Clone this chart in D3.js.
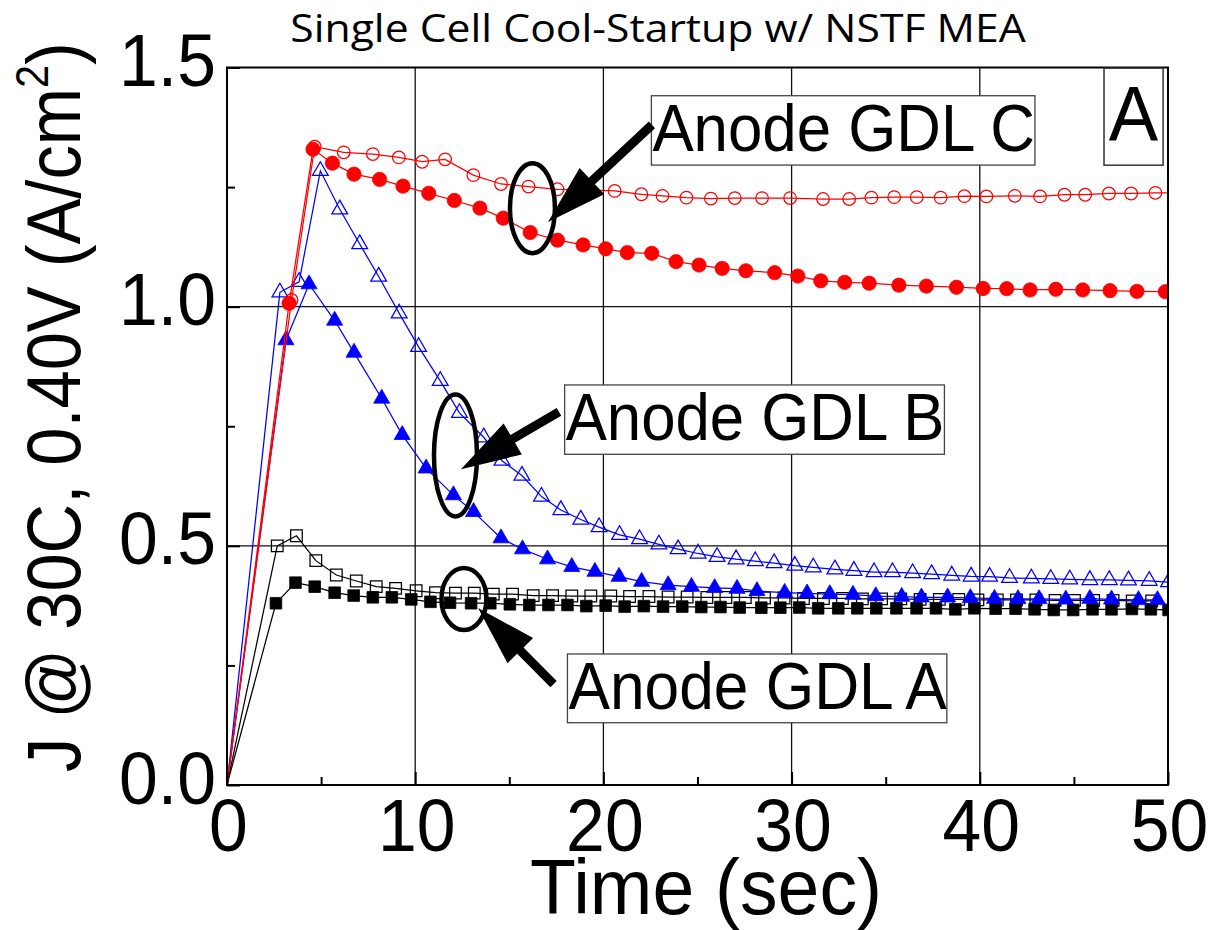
<!DOCTYPE html>
<html>
<head>
<meta charset="utf-8">
<script src="https://cdn.jsdelivr.net/npm/d3@7"></script>
<style>
  html, body { margin: 0; padding: 0; background: #fff; }
  svg { display: block; }
</style>
</head>
<body>
<svg id="chart" width="1210" height="930"></svg>
<script>
// ---- Current density J (A/cm^2) at 30C, 0.40V vs. time (sec) ----

// Anode GDL A, open squares
const gdlAOpenTime = [0, 2.67, 3.69, 4.72, 5.81, 6.87, 7.93, 8.96, 10.05, 11.08, 12.14, 13.14, 14.15, 15.17, 16.27, 17.3, 18.32, 19.33, 20.39, 21.39, 22.42, 23.44, 24.45, 25.5, 26.51, 27.54, 28.56, 29.6, 30.63, 31.69, 32.7, 33.76, 34.78, 35.8, 36.83, 37.85, 38.88, 39.9, 40.93, 41.95, 42.98, 44.0, 45.03, 46.05, 47.08, 48.1, 49.13];
const gdlAOpenJ    = [0, 0.500, 0.521, 0.469, 0.439, 0.4265, 0.4146, 0.411, 0.406, 0.402, 0.401, 0.401, 0.399, 0.399, 0.396, 0.396, 0.395, 0.395, 0.395, 0.394, 0.394, 0.393, 0.393, 0.392, 0.392, 0.392, 0.391, 0.391, 0.390, 0.390, 0.390, 0.389, 0.389, 0.389, 0.388, 0.388, 0.388, 0.387, 0.387, 0.387, 0.387, 0.386, 0.386, 0.386, 0.386, 0.385, 0.385];

// Anode GDL A, filled squares
const gdlAFilledTime = [0, 2.6, 3.64, 4.66, 5.72, 6.73, 7.75, 8.76, 9.79, 10.81, 11.85, 12.97, 13.99, 15.03, 16.06, 17.08, 18.09, 19.09, 20.12, 21.13, 22.15, 23.17, 24.19, 25.2, 26.22, 27.24, 28.39, 29.4, 30.41, 31.41, 32.48, 33.49, 34.5, 35.57, 36.64, 37.67, 38.7, 39.71, 40.84, 41.9, 42.91, 43.93, 44.96, 45.99, 47.0, 48.08, 49.09, 50.03];
const gdlAFilledJ    = [0, 0.380, 0.423, 0.4146, 0.402, 0.396, 0.3924, 0.3924, 0.388, 0.383, 0.381, 0.380, 0.380, 0.3778, 0.3763, 0.3763, 0.3763, 0.374, 0.375, 0.373, 0.374, 0.373, 0.373, 0.372, 0.372, 0.371, 0.3707, 0.3707, 0.371, 0.3694, 0.3694, 0.3694, 0.3694, 0.3694, 0.3694, 0.3694, 0.3673, 0.3694, 0.3686, 0.3686, 0.3673, 0.3659, 0.3659, 0.3673, 0.3673, 0.368, 0.3673, 0.3659];

// Anode GDL B, open triangles
const gdlBOpenTime = [0, 2.81, 3.83, 4.96, 5.99, 7.05, 8.06, 9.15, 10.18, 11.33, 12.35, 13.64, 14.61, 15.67, 16.71, 17.74, 18.80, 19.77, 20.86, 21.92, 22.95, 23.97, 25.03, 26.04, 27.05, 28.07, 29.07, 30.17, 31.15, 32.30, 33.31, 34.38, 35.36, 36.43, 37.44, 38.51, 39.54, 40.52, 41.58, 42.74, 43.77, 44.78, 45.85, 46.88, 47.90, 49.0, 50.03];
const gdlBOpenJ    = [0, 1.030, 1.052, 1.284, 1.2036, 1.131, 1.063, 0.986, 0.916, 0.845, 0.778, 0.727, 0.678, 0.647, 0.603, 0.575, 0.555, 0.539, 0.523, 0.514, 0.503, 0.493, 0.484, 0.477, 0.472, 0.468, 0.464, 0.4585, 0.455, 0.451, 0.448, 0.445, 0.445, 0.443, 0.441, 0.438, 0.436, 0.4355, 0.433, 0.432, 0.431, 0.430, 0.4286, 0.4286, 0.428, 0.427, 0.424];

// Anode GDL B, filled triangles
const gdlBFilledTime = [0, 3.13, 4.36, 5.72, 6.75, 8.22, 9.31, 10.58, 12.03, 13.1, 14.56, 15.70, 17.03, 18.32, 19.55, 20.83, 22.03, 23.44, 24.68, 25.91, 27.1, 28.16, 29.63, 30.82, 32.03, 33.26, 34.47, 35.85, 36.9, 38.29, 39.5, 40.78, 42.03, 43.15, 44.57, 45.85, 47.0, 48.43, 49.44];
const gdlBFilledJ    = [0, 0.930, 1.047, 0.971, 0.904, 0.808, 0.732, 0.662, 0.606, 0.571, 0.516, 0.493, 0.472, 0.456, 0.446, 0.4355, 0.425, 0.418, 0.4146, 0.412, 0.4104, 0.4056, 0.402, 0.4008, 0.3993, 0.398, 0.395, 0.3937, 0.3924, 0.3924, 0.391, 0.3895, 0.3889, 0.3889, 0.388, 0.3895, 0.388, 0.3868, 0.3868];

// Anode GDL C, open circles
const gdlCOpenTime = [0, 3.43, 4.66, 6.2, 7.75, 9.13, 10.37, 11.59, 13.09, 14.56, 16.02, 17.56, 19.06, 20.6, 22.02, 23.14, 24.41, 25.71, 26.98, 28.43, 29.92, 31.67, 33.06, 34.24, 35.45, 36.65, 37.92, 39.18, 40.35, 41.86, 43.2, 44.5, 45.6, 46.86, 48.04, 49.33, 50.6];
const gdlCOpenJ    = [0, 1.014, 1.3345, 1.3227, 1.319, 1.312, 1.303, 1.308, 1.275, 1.2565, 1.251, 1.2454, 1.244, 1.242, 1.235, 1.2317, 1.228, 1.226, 1.227, 1.227, 1.227, 1.225, 1.225, 1.228, 1.229, 1.229, 1.228, 1.231, 1.2305, 1.2317, 1.2305, 1.234, 1.234, 1.2366, 1.2366, 1.238, 1.238];

// Anode GDL C, filled circles
const gdlCFilledTime = [0, 3.3, 4.57, 5.6, 6.75, 8.11, 9.35, 10.72, 12.08, 13.44, 14.68, 16.11, 17.56, 18.92, 20.12, 21.27, 22.57, 23.86, 25.08, 26.31, 27.57, 29.1, 30.33, 31.55, 32.82, 34.12, 35.7, 37.16, 38.76, 40.18, 41.43, 42.67, 44.04, 45.47, 46.92, 48.35, 49.86];
const gdlCFilledJ    = [0, 1.007, 1.329, 1.300, 1.277, 1.266, 1.252, 1.237, 1.222, 1.206, 1.185, 1.155, 1.139, 1.129, 1.121, 1.113, 1.1116, 1.094, 1.087, 1.080, 1.075, 1.071, 1.064, 1.054, 1.051, 1.049, 1.045, 1.043, 1.0406, 1.038, 1.0376, 1.035, 1.0364, 1.035, 1.0335, 1.032, 1.0313];

// Axis ticks and labels
const xTicks = [0, 10, 20, 30, 40, 50];
const xTickLabels = ["0", "10", "20", "30", "40", "50"];
const xMinorTicks = [5, 15, 25, 35, 45];
const yTicks = [0, 0.5, 1.0, 1.5];
const yTickLabels = ["0.0", "0.5", "1.0", "1.5"];
const yMinorTicks = [0.25, 0.75, 1.25];
const xGrid = [10, 20, 30, 40];
const yGrid = [0.5, 1.0];

const titleText = "Single Cell Cool-Startup w/ NSTF MEA";
const xLabelText = "Time (sec)";
const panelText = "A";

// Callout annotations (box corners, ellipse centres, arrow ends in data units)
const calloutNames = ["Anode GDL C", "Anode GDL B", "Anode GDL A"];
const calloutBoxT = [[22.55, 42.93], [17.94, 38.12], [18.09, 38.25]];
const calloutBoxJ = [[1.441, 1.296], [0.8363, 0.6914], [0.2739, 0.1302]];
const ellipseCentre = [[16.23, 1.206], [12.14, 0.689], [12.59, 0.389]];
const ellipseRadii = [[22.5, 45], [21.5, 61], [22.5, 31]];
const arrowTail = [[22.58, 1.380], [17.64, 0.780], [17.35, 0.211]];
const arrowTip  = [[17.06, 1.177], [12.43, 0.660], [13.34, 0.370]];

// ---------------------------------------------------------------
const svg = d3.select("#chart");
const plot = { left: 227, right: 1168, top: 67.5, bottom: 785 };
const x = d3.scaleLinear().domain([0, 50]).range([plot.left, plot.right]);
const y = d3.scaleLinear().domain([0, 1.5]).range([plot.bottom, plot.top]);
const sansArial = "'Liberation Sans', Arial, Helvetica, sans-serif";

svg.append("rect").attr("width", 1210).attr("height", 930).attr("fill", "#fff");

svg.append("defs").append("clipPath").attr("id", "plotClip")
  .append("rect")
  .attr("x", plot.left).attr("y", plot.top)
  .attr("width", plot.right - plot.left).attr("height", plot.bottom - plot.top);

// grid
const grid = svg.append("g").attr("stroke", "#111").attr("stroke-width", 1.3);
grid.selectAll("line.gx").data(xGrid).join("line")
  .attr("x1", d => x(d)).attr("x2", d => x(d))
  .attr("y1", plot.top).attr("y2", plot.bottom);
grid.selectAll("line.gy").data(yGrid).join("line")
  .attr("x1", plot.left).attr("x2", plot.right)
  .attr("y1", d => y(d)).attr("y2", d => y(d));

// series
const series = [
  { t: gdlAOpenTime,   j: gdlAOpenJ,   color: "#000000", symbol: d3.symbolSquare,   size: 135, filled: false },
  { t: gdlAFilledTime, j: gdlAFilledJ, color: "#000000", symbol: d3.symbolSquare,   size: 135, filled: true },
  { t: gdlBOpenTime,   j: gdlBOpenJ,   color: "#0000ff", symbol: d3.symbolTriangle, size: 108, filled: false },
  { t: gdlBFilledTime, j: gdlBFilledJ, color: "#0000ff", symbol: d3.symbolTriangle, size: 112, filled: true },
  { t: gdlCOpenTime,   j: gdlCOpenJ,   color: "#ff0000", symbol: d3.symbolCircle,   size: 125, filled: false },
  { t: gdlCFilledTime, j: gdlCFilledJ, color: "#ff0000", symbol: d3.symbolCircle,   size: 160, filled: true }
];

const line = d3.line().x(d => x(d[0])).y(d => y(d[1]));
const dataLayer = svg.append("g").attr("clip-path", "url(#plotClip)");
series.forEach(s => {
  const pts = d3.zip(s.t, s.j);
  const g = dataLayer.append("g");
  g.append("path").datum(pts)
    .attr("d", line).attr("fill", "none")
    .attr("stroke", s.color).attr("stroke-width", 1.25);
  g.selectAll("path.marker").data(pts.filter(d => d[0] > 0)).join("path")
    .attr("class", "marker")
    .attr("transform", d => `translate(${x(d[0])},${y(d[1])})`)
    .attr("d", d3.symbol().type(s.symbol).size(s.size))
    .attr("fill", s.filled ? s.color : "none")
    .attr("stroke", s.color)
    .attr("stroke-width", s.filled ? 0.8 : 1.25);
});

// frame
svg.append("rect")
  .attr("x", plot.left).attr("y", plot.top)
  .attr("width", plot.right - plot.left).attr("height", plot.bottom - plot.top)
  .attr("fill", "none").attr("stroke", "#000").attr("stroke-width", 2);

// axes (ticks point inward)
function styleAxis(g) {
  g.select(".domain").remove();
  g.attr("font-family", sansArial).attr("font-size", 75);
  g.selectAll(".tick line").attr("stroke", "#000").attr("stroke-width", 2);
  g.selectAll(".tick text").attr("fill", "#000");
}
const xAxisG = svg.append("g").attr("transform", `translate(0,${plot.bottom})`)
  .call(d3.axisBottom(x).tickValues(xTicks).tickSize(-13).tickFormat((d, i) => xTickLabels[i]));
styleAxis(xAxisG);
xAxisG.selectAll(".tick text").attr("y", 0).attr("dy", 0)
  .attr("transform", "translate(1,66) scale(0.93,1)");

svg.append("g").attr("transform", `translate(0,${plot.bottom})`)
  .call(d3.axisBottom(x).tickValues(xMinorTicks).tickSize(-8).tickFormat(""))
  .call(styleAxis);

const yAxisG = svg.append("g").attr("transform", `translate(${plot.left},0)`)
  .call(d3.axisLeft(y).tickValues(yTicks).tickSize(-13).tickFormat((d, i) => yTickLabels[i]));
styleAxis(yAxisG);
yAxisG.selectAll(".tick text").attr("x", 0).attr("dy", 0)
  .attr("text-anchor", "end")
  .attr("transform", "translate(-11,18) scale(0.93,1)");

svg.append("g").attr("transform", `translate(${plot.left},0)`)
  .call(d3.axisLeft(y).tickValues(yMinorTicks).tickSize(-8).tickFormat(""))
  .call(styleAxis);

// text fitted horizontally to a given advance width
function fitText(textSel, width) {
  const w = textSel.node().getBBox().width;
  textSel.attr("transform", `scale(${width / w},1)`);
}

// title
const titleG = svg.append("g").attr("transform", "translate(658,42)");
const title = titleG.append("text")
  .attr("text-anchor", "middle")
  .attr("font-family", "'Open Sans', 'Noto Sans', sans-serif")
  .attr("font-size", 39).attr("fill", "#000")
  .text(titleText);
fitText(title, 736);

// x label
const xLabG = svg.append("g").attr("transform", "translate(706,914)");
const xLab = xLabG.append("text")
  .attr("text-anchor", "middle").attr("font-family", sansArial)
  .attr("font-size", 78).attr("fill", "#000")
  .text(xLabelText);
fitText(xLab, 352);

// y label
const yLabG = svg.append("g").attr("transform", "translate(80,407) rotate(-90)");
const yLab = yLabG.append("text")
  .attr("text-anchor", "middle").attr("font-family", sansArial)
  .attr("font-size", 76).attr("fill", "#000");
yLab.append("tspan").text("J @ 30C, 0.40V (A/cm");
yLab.append("tspan").attr("font-size", 46).attr("dy", -32).text("2");
yLab.append("tspan").attr("dy", 32).text(")");
fitText(yLab, 730);

// panel letter
const panelBoxT = [46.6, 49.74], panelBoxJ = [1.4986, 1.2958];
svg.append("rect")
  .attr("x", x(panelBoxT[0])).attr("y", y(panelBoxJ[0]))
  .attr("width", x(panelBoxT[1]) - x(panelBoxT[0]))
  .attr("height", y(panelBoxJ[1]) - y(panelBoxJ[0]))
  .attr("fill", "#fff").attr("stroke", "#333").attr("stroke-width", 1.5);
const panelG = svg.append("g")
  .attr("transform", `translate(${(x(panelBoxT[0]) + x(panelBoxT[1])) / 2},${y(panelBoxJ[0]) + 73})`);
const panel = panelG.append("text").attr("text-anchor", "middle")
  .attr("font-family", sansArial).attr("font-size", 77).attr("fill", "#000")
  .text(panelText);
fitText(panel, 50);

// callouts: boxes, ellipses, arrows
calloutNames.forEach((name, i) => {
  const x0 = x(calloutBoxT[i][0]), x1 = x(calloutBoxT[i][1]);
  const y0 = y(calloutBoxJ[i][0]), y1 = y(calloutBoxJ[i][1]);
  svg.append("rect")
    .attr("x", x0).attr("y", y0).attr("width", x1 - x0).attr("height", y1 - y0)
    .attr("fill", "#fff").attr("stroke", "#444").attr("stroke-width", 1.3);
  const g = svg.append("g").attr("transform", `translate(${x0 + 1},${y0 + 55})`);
  const t = g.append("text").attr("font-family", sansArial)
    .attr("font-size", 66).attr("fill", "#000").text(name);
  fitText(t, x1 - x0 - 1);

  svg.append("ellipse")
    .attr("cx", x(ellipseCentre[i][0])).attr("cy", y(ellipseCentre[i][1]))
    .attr("rx", ellipseRadii[i][0]).attr("ry", ellipseRadii[i][1])
    .attr("fill", "none").attr("stroke", "#000").attr("stroke-width", 4.5);

  const tx = x(arrowTail[i][0]), ty = y(arrowTail[i][1]);
  const hx = x(arrowTip[i][0]), hy = y(arrowTip[i][1]);
  const len = Math.hypot(hx - tx, hy - ty);
  const headLen = 60, headHalf = 18, shaftHalf = 4.5;
  const ang = Math.atan2(hy - ty, hx - tx) * 180 / Math.PI;
  svg.append("path")
    .attr("transform", `translate(${tx},${ty}) rotate(${ang})`)
    .attr("d", `M0,${-shaftHalf} L${len - headLen},${-shaftHalf} L${len - headLen},${-headHalf} L${len},0 L${len - headLen},${headHalf} L${len - headLen},${shaftHalf} L0,${shaftHalf} Z`)
    .attr("fill", "#000");
});
</script>
</body>
</html>
